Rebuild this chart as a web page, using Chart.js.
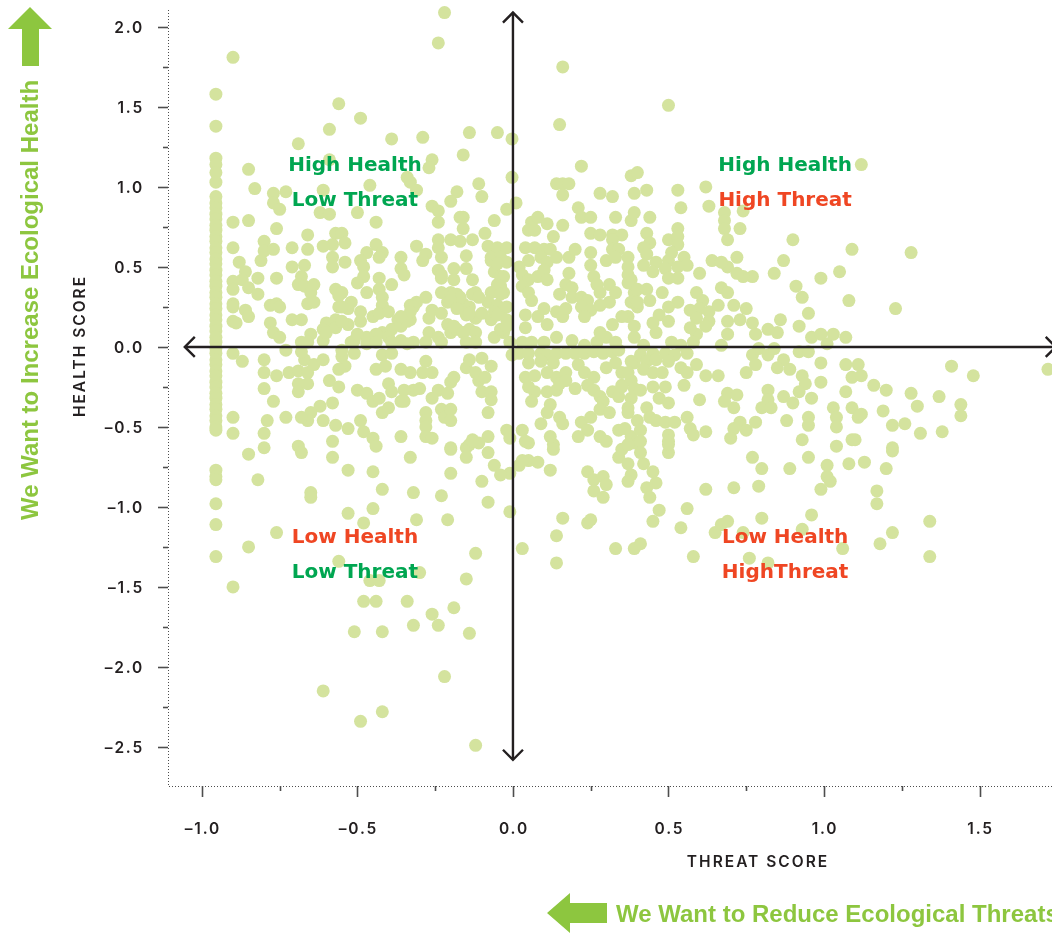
<!DOCTYPE html>
<html>
<head>
<meta charset="utf-8">
<title>Health vs Threat</title>
<script src="https://cdn.jsdelivr.net/npm/chart.js@4.4.1/dist/chart.umd.min.js"></script>
<style>
  html, body { margin: 0; padding: 0; background: #fff; }
</style>
</head>
<body>
<canvas id="scores" width="1052" height="934"></canvas>
<script>
// tick values on both axes
const threatTicks = [-1.0, -0.5, 0.0, 0.5, 1.0, 1.5];
const threatMinorTicks = [-0.75, -0.25, 0.25, 0.75, 1.25];
const healthTicks = [2.0, 1.5, 1.0, 0.5, 0.0, -0.5, -1.0, -1.5, -2.0, -2.5];
const healthMinorTicks = [1.75, 1.25, 0.75, 0.25, -0.25, -0.75, -1.25, -1.75, -2.25];

// sites stacked on the left edge, all at the same threat score
const columnThreat = -0.955;
const healthColumn = [1.58, 1.38, 1.18, 1.14, 1.09, 1.03, 0.94, 0.90, 0.87, 0.83, 0.80, 0.76, 0.73, 0.69,
  0.66, 0.62, 0.59, 0.55, 0.52, 0.48, 0.45, 0.41, 0.38, 0.34, 0.31, 0.27, 0.24, 0.20, 0.17, 0.13, 0.10,
  0.06, 0.03, -0.01, -0.04, -0.08, -0.11, -0.15, -0.18, -0.22, -0.25, -0.29, -0.32, -0.36, -0.39, -0.43,
  -0.46, -0.50, -0.52, -0.77, -0.81, -0.83, -0.98, -1.11, -1.31];

// [threat, health]
const highHealthLowThreat = [
  [-0.22,2.09],[-0.24,1.90],[-0.90,1.81],[-0.56,1.52],[-0.49,1.43],[-0.59,1.36],[-0.39,1.30],[-0.29,1.31],[-0.14,1.34],[-0.05,1.34],[-0.003,1.30],
  [-0.69,1.27],[-0.16,1.20],[-0.26,1.17],[-0.27,1.12],[-0.59,1.17],[-0.85,1.11],[-0.83,0.99],[-0.46,1.01],[-0.34,1.06],[-0.33,1.03],[-0.31,0.98],
  [-0.11,1.02],[-0.10,0.94],[-0.18,0.97],[-0.20,0.91],[-0.003,1.06],[-0.02,0.86],[-0.77,0.96],[-0.77,0.90],[-0.75,0.86],[-0.73,0.97],[-0.61,0.98],
  [-0.62,0.84],[-0.59,0.83],[-0.50,0.84],[-0.44,0.78],[-0.26,0.88],[-0.24,0.85],[-0.16,0.81],[-0.06,0.79],[-0.24,0.78],[-0.90,0.78],[-0.85,0.79],
  [-0.76,0.74],[-0.16,0.74],[-0.09,0.71],[-0.57,0.71],[-0.55,0.71],[-0.66,0.70],[-0.54,0.65],[-0.58,0.64],[-0.61,0.63],[-0.80,0.66],[-0.80,0.60],
  [-0.90,0.62],[-0.77,0.61],[-0.71,0.62],[-0.66,0.61],[-0.44,0.64],[-0.42,0.59],[-0.43,0.56],[-0.47,0.59],[-0.49,0.54],[-0.24,0.67],[-0.24,0.62],
  [-0.23,0.56],[-0.20,0.67],[-0.17,0.66],[-0.13,0.67],[-0.31,0.63],[-0.28,0.58],[-0.29,0.54],[-0.36,0.56],[-0.15,0.57],[-0.08,0.63],[-0.05,0.62],
  [-0.02,0.62],[-0.07,0.56],[-0.04,0.56],[-0.02,0.53],[-0.58,0.56],[-0.54,0.53],[-0.88,0.53],[-0.81,0.54],[-0.67,0.51],[-0.58,0.50],[-0.86,0.47],
  [-0.87,0.42],[-0.82,0.43],[-0.76,0.43],[-0.71,0.50],[-0.90,0.41],[-0.90,0.36],[-0.68,0.44],[-0.69,0.39],[-0.67,0.38],[-0.65,0.34],[-0.64,0.39],
  [-0.48,0.50],[-0.48,0.44],[-0.43,0.43],[-0.43,0.36],[-0.42,0.31],[-0.42,0.26],[-0.39,0.39],[-0.50,0.40],[-0.36,0.49],[-0.35,0.45],[-0.24,0.48],
  [-0.23,0.43],[-0.19,0.49],[-0.19,0.42],[-0.15,0.49],[-0.13,0.42],[-0.06,0.47],[-0.04,0.44],[-0.05,0.39],[-0.03,0.34],[-0.07,0.34],[-0.08,0.28],
  [-0.57,0.36],[-0.55,0.34],[-0.47,0.34],[-0.85,0.37],[-0.82,0.33],[-0.90,0.27],[-0.90,0.16],[-0.89,0.15],[-0.86,0.23],[-0.85,0.19],[-0.78,0.26],
  [-0.76,0.27],[-0.75,0.25],[-0.78,0.15],[-0.71,0.17],[-0.68,0.17],[-0.66,0.27],[-0.64,0.28],[-0.60,0.15],[-0.61,0.11],[-0.56,0.25],[-0.53,0.24],
  [-0.52,0.28],[-0.57,0.17],[-0.53,0.14],[-0.49,0.22],[-0.49,0.16],[-0.45,0.19],[-0.43,0.21],[-0.40,0.22],[-0.37,0.17],[-0.33,0.17],[-0.33,0.26],
  [-0.31,0.28],[-0.28,0.31],[-0.27,0.18],[-0.26,0.23],[-0.23,0.21],[-0.23,0.34],[-0.21,0.28],[-0.20,0.34],[-0.18,0.33],[-0.16,0.27],[-0.14,0.25],
  [-0.12,0.34],[-0.15,0.20],[-0.12,0.18],[-0.10,0.21],[-0.07,0.17],[-0.04,0.21],[-0.02,0.17],[-0.21,0.14],[-0.20,0.09],[-0.18,0.11],[-0.14,0.11],
  [-0.12,0.09],[-0.06,0.06],[-0.03,0.09],[-0.68,0.03],[-0.65,0.08],[-0.51,0.04],[-0.47,0.06],[-0.42,0.09],[-0.39,0.11],[-0.36,0.04],[-0.32,0.03],
  [-0.27,0.09],[-0.77,0.09],[-0.75,0.06],[-0.66,0.03],[-0.61,0.04],[-0.60,0.09],[-0.57,0.12],[-0.55,0.16],[-0.55,0.25],[-0.52,0.03],[-0.50,0.08],
  [-0.44,0.08],[-0.40,0.06],[-0.36,0.13],[-0.34,0.16],[-0.47,0.02],[-0.44,0.03],[-0.39,0.03],[-0.34,0.02],[-0.90,0.25],[-0.56,0.32],[-0.17,0.81],
  [-0.07,0.54],[-0.05,0.52],[-0.23,0.45],[-0.03,0.44],[-0.04,0.38],[-0.04,0.33],[-0.19,0.33],[-0.17,0.31],[-0.13,0.33],[-0.11,0.31],[-0.05,0.26],
  [-0.06,0.22],[-0.05,0.20],[-0.02,0.25],[-0.32,0.25],[-0.33,0.22],[-0.20,0.29],[-0.18,0.24],[-0.14,0.21],[-0.19,0.13],[-0.16,0.09],[-0.04,0.11],
  [-0.02,0.13],[-0.24,0.06],[-0.28,0.03],[-0.23,0.03],[-0.15,0.03],[-0.12,0.03],[-0.36,0.19],[-0.01,0.03]
];

const highHealthHighThreat = [
  [0.16,1.75],[0.50,1.51],[0.15,1.39],[0.22,1.13],[1.12,1.14],[0.14,1.02],[0.16,1.02],[0.18,1.02],[0.16,0.95],[0.38,1.07],[0.40,1.09],
  [0.28,0.96],[0.32,0.94],[0.39,0.96],[0.43,0.98],[0.53,0.98],[0.62,1.00],[0.01,0.90],[0.21,0.87],[0.54,0.87],[0.63,0.88],[0.22,0.81],
  [0.25,0.81],[0.33,0.81],[0.38,0.79],[0.39,0.84],[0.44,0.81],[0.06,0.78],[0.08,0.81],[0.05,0.73],[0.07,0.73],[0.11,0.77],[0.16,0.76],
  [0.13,0.69],[0.25,0.71],[0.28,0.70],[0.32,0.70],[0.35,0.70],[0.43,0.71],[0.50,0.67],[0.53,0.74],[0.53,0.69],[0.68,0.84],[0.68,0.79],
  [0.68,0.74],[0.73,0.74],[0.69,0.67],[0.90,0.67],[1.09,0.61],[1.28,0.59],[0.99,0.43],[1.05,0.47],[1.08,0.29],[1.23,0.24],[0.87,0.54],
  [0.84,0.46],[0.77,0.44],[0.74,0.44],[0.72,0.46],[0.69,0.50],[0.72,0.56],[0.64,0.54],[0.67,0.53],[0.60,0.46],[0.32,0.67],[0.32,0.61],
  [0.34,0.61],[0.30,0.54],[0.33,0.56],[0.04,0.62],[0.07,0.62],[0.10,0.61],[0.12,0.61],[0.09,0.56],[0.05,0.54],[0.11,0.53],[0.14,0.56],
  [0.18,0.56],[0.20,0.61],[0.25,0.59],[0.25,0.51],[0.26,0.44],[0.02,0.50],[0.03,0.45],[0.05,0.42],[0.03,0.38],[0.05,0.34],[0.06,0.29],
  [0.08,0.44],[0.10,0.48],[0.11,0.42],[0.18,0.46],[0.17,0.39],[0.19,0.37],[0.19,0.31],[0.15,0.33],[0.22,0.31],[0.24,0.29],[0.22,0.25],
  [0.25,0.23],[0.23,0.19],[0.27,0.39],[0.28,0.34],[0.31,0.39],[0.33,0.34],[0.31,0.28],[0.28,0.26],[0.37,0.56],[0.37,0.50],[0.37,0.45],
  [0.38,0.42],[0.39,0.34],[0.38,0.28],[0.40,0.25],[0.04,0.20],[0.04,0.12],[0.08,0.19],[0.11,0.14],[0.10,0.24],[0.14,0.22],[0.16,0.19],
  [0.17,0.24],[0.14,0.06],[0.19,0.04],[0.23,0.01],[0.27,0.03],[0.30,0.06],[0.33,0.03],[0.28,0.09],[0.32,0.14],[0.37,0.19],[0.39,0.13],
  [0.39,0.06],[0.03,0.03],[0.06,0.03],[0.10,0.03],[0.74,0.85],[0.53,0.64],[0.44,0.65],[0.42,0.62],[0.43,0.58],[0.42,0.51],[0.37,0.40],
  [0.46,0.53],[0.50,0.54],[0.51,0.59],[0.55,0.56],[0.56,0.51],[0.53,0.50],[0.49,0.49],[0.45,0.47],[0.50,0.43],[0.53,0.43],[0.40,0.36],
  [0.43,0.36],[0.40,0.28],[0.44,0.29],[0.48,0.34],[0.53,0.28],[0.50,0.25],[0.47,0.20],[0.59,0.34],[0.61,0.29],[0.60,0.24],[0.57,0.23],
  [0.59,0.18],[0.63,0.22],[0.66,0.26],[0.63,0.16],[0.62,0.13],[0.67,0.37],[0.69,0.34],[0.71,0.26],[0.69,0.16],[0.69,0.08],[0.73,0.17],
  [0.75,0.24],[0.77,0.15],[0.78,0.08],[0.82,0.11],[0.85,0.09],[0.86,0.17],[0.91,0.38],[0.93,0.31],[0.95,0.21],[0.92,0.13],[0.96,0.06],
  [0.99,0.08],[1.03,0.08],[1.07,0.06],[1.01,0.02],[0.50,0.16],[0.46,0.09],[0.35,0.19],[0.45,0.15],[0.59,0.08],[0.58,0.03],[0.67,0.01],
  [0.57,0.12],[0.42,0.01],[0.51,0.03],[0.54,0.01]
];

const lowHealthLowThreat = [
  [-0.90,-0.04],[-0.87,-0.09],[-0.80,-0.08],[-0.80,-0.16],[-0.76,-0.18],[-0.80,-0.26],[-0.77,-0.34],[-0.73,-0.02],[-0.72,-0.16],[-0.69,-0.15],
  [-0.69,-0.23],[-0.69,-0.28],[-0.66,-0.23],[-0.66,-0.16],[-0.67,-0.08],[-0.64,-0.11],[-0.61,-0.08],[-0.68,-0.03],[-0.59,-0.21],[-0.56,-0.25],
  [-0.55,-0.06],[-0.54,-0.12],[-0.56,-0.14],[-0.51,-0.04],[-0.50,-0.27],[-0.47,-0.29],[-0.45,-0.34],[-0.43,-0.32],[-0.44,-0.14],[-0.41,-0.12],
  [-0.40,-0.23],[-0.39,-0.28],[-0.36,-0.34],[-0.42,-0.05],[-0.39,-0.04],[-0.36,-0.14],[-0.33,-0.16],[-0.32,-0.27],[-0.58,-0.35],[-0.62,-0.37],
  [-0.65,-0.41],[-0.66,-0.46],[-0.68,-0.44],[-0.61,-0.46],[-0.73,-0.44],[-0.79,-0.46],[-0.90,-0.44],[-0.90,-0.54],[-0.80,-0.54],[-0.69,-0.62],
  [-0.80,-0.63],[-0.57,-0.49],[-0.53,-0.51],[-0.49,-0.46],[-0.48,-0.53],[-0.45,-0.57],[-0.44,-0.62],[-0.58,-0.59],[-0.42,-0.41],[-0.40,-0.38],
  [-0.36,-0.56],[-0.55,-0.02],[-0.28,-0.09],[-0.29,-0.16],[-0.26,-0.16],[-0.35,-0.27],[-0.30,-0.26],[-0.24,-0.27],[-0.26,-0.32],[-0.21,-0.29],
  [-0.35,-0.34],[-0.20,-0.22],[-0.19,-0.19],[-0.15,-0.13],[-0.14,-0.08],[-0.12,-0.16],[-0.11,-0.21],[-0.10,-0.07],[-0.07,-0.12],[-0.09,-0.19],
  [-0.10,-0.28],[-0.07,-0.28],[-0.07,-0.33],[-0.08,-0.41],[-0.28,-0.41],[-0.28,-0.46],[-0.28,-0.50],[-0.23,-0.39],[-0.22,-0.44],[-0.20,-0.39],
  [-0.20,-0.46],[-0.28,-0.56],[-0.26,-0.57],[-0.13,-0.58],[-0.15,-0.63],[-0.08,-0.56],[-0.11,-0.60],[-0.02,-0.52],[-0.01,-0.57],[-0.20,-0.63],
  [-0.003,-0.05],[-0.85,-0.67],[-0.82,-0.83],[-0.85,-1.25],[-0.76,-1.16],[-0.90,-1.50],[-0.65,-0.91],[-0.65,-0.94],[-0.58,-0.69],[-0.53,-0.77],
  [-0.45,-0.78],[-0.42,-0.89],[-0.53,-1.04],[-0.45,-1.01],[-0.48,-1.10],[-0.56,-1.34],[-0.46,-1.46],[-0.43,-1.46],[-0.30,-1.41],[-0.32,-0.91],
  [-0.31,-1.08],[-0.23,-0.93],[-0.21,-1.08],[-0.20,-0.79],[-0.08,-0.97],[-0.10,-0.84],[-0.01,-0.79],[-0.01,-1.03],[-0.12,-1.29],[-0.15,-1.45],
  [-0.48,-1.59],[-0.44,-1.59],[-0.34,-1.59],[-0.26,-1.67],[-0.24,-1.74],[-0.19,-1.63],[-0.32,-1.74],[-0.51,-1.78],[-0.42,-1.78],[-0.14,-1.79],
  [-0.22,-2.06],[-0.61,-2.15],[-0.42,-2.28],[-0.49,-2.34],[-0.12,-2.49],[-0.15,-0.69],[-0.14,-0.61],[-0.13,-0.59],[-0.08,-0.66],[-0.06,-0.74],
  [-0.04,-0.80],[-0.20,-0.64],[-0.33,-0.69],[-0.68,-0.66]
];

const lowHealthHighThreat = [
  [0.02,-0.04],[0.05,-0.04],[0.09,-0.04],[0.11,-0.05],[0.14,-0.04],[0.17,-0.04],[0.20,-0.04],[0.23,-0.04],[0.26,-0.03],[0.29,-0.04],
  [0.32,-0.03],[0.34,-0.02],[0.05,-0.10],[0.09,-0.09],[0.13,-0.10],[0.04,-0.19],[0.07,-0.18],[0.11,-0.16],[0.14,-0.19],[0.17,-0.16],
  [0.21,-0.11],[0.23,-0.16],[0.26,-0.19],[0.30,-0.13],[0.33,-0.10],[0.35,-0.16],[0.39,-0.10],[0.05,-0.25],[0.07,-0.28],[0.06,-0.34],
  [0.11,-0.28],[0.14,-0.27],[0.12,-0.36],[0.11,-0.41],[0.15,-0.23],[0.17,-0.21],[0.20,-0.26],[0.24,-0.24],[0.26,-0.27],[0.28,-0.31],
  [0.29,-0.34],[0.32,-0.28],[0.35,-0.24],[0.38,-0.21],[0.34,-0.31],[0.38,-0.32],[0.37,-0.38],[0.39,-0.26],[0.15,-0.44],[0.16,-0.48],
  [0.22,-0.47],[0.25,-0.44],[0.28,-0.39],[0.31,-0.41],[0.24,-0.52],[0.21,-0.56],[0.28,-0.56],[0.30,-0.59],[0.34,-0.52],[0.38,-0.56],
  [0.39,-0.60],[0.12,-0.56],[0.13,-0.61],[0.05,-0.60],[0.09,-0.48],[0.03,-0.52],[0.04,-0.59],[0.41,-0.05],[0.45,-0.04],[0.49,-0.04],
  [0.52,-0.05],[0.56,-0.04],[0.38,-0.09],[0.43,-0.09],[0.46,-0.08],[0.50,-0.09],[0.37,-0.16],[0.42,-0.14],[0.45,-0.16],[0.48,-0.16],
  [0.54,-0.13],[0.56,-0.16],[0.59,-0.11],[0.62,-0.18],[0.66,-0.18],[0.75,-0.16],[0.78,-0.11],[0.77,-0.05],[0.79,-0.01],[0.82,-0.05],
  [0.84,-0.01],[0.87,-0.08],[0.89,-0.14],[0.85,-0.13],[0.92,-0.03],[0.95,-0.03],[0.99,-0.10],[0.93,-0.18],[0.94,-0.23],[0.92,-0.28],
  [0.99,-0.22],[1.07,-0.11],[1.09,-0.19],[1.07,-0.28],[0.35,-0.25],[0.41,-0.27],[0.45,-0.25],[0.49,-0.25],[0.55,-0.24],[0.37,-0.41],
  [0.47,-0.32],[0.50,-0.35],[0.43,-0.38],[0.44,-0.44],[0.40,-0.46],[0.46,-0.46],[0.49,-0.47],[0.52,-0.47],[0.56,-0.44],[0.60,-0.33],
  [0.57,-0.51],[0.58,-0.55],[0.62,-0.53],[0.36,-0.51],[0.41,-0.52],[0.50,-0.55],[0.50,-0.59],[0.41,-0.59],[0.69,-0.29],[0.72,-0.30],
  [0.82,-0.27],[0.82,-0.33],[0.87,-0.31],[0.90,-0.35],[0.96,-0.32],[0.80,-0.38],[0.83,-0.38],[0.71,-0.38],[0.68,-0.34],[0.88,-0.46],
  [0.95,-0.44],[0.95,-0.49],[1.03,-0.38],[1.04,-0.44],[1.04,-0.50],[1.09,-0.38],[1.11,-0.44],[0.78,-0.47],[0.73,-0.47],[0.71,-0.51],
  [0.75,-0.52],[0.70,-0.57],[0.93,-0.58],[1.09,-0.58],[1.11,-0.11],[1.12,-0.18],[1.16,-0.24],[1.20,-0.27],[1.12,-0.42],[1.19,-0.40],
  [1.22,-0.49],[1.26,-0.48],[1.31,-0.54],[1.28,-0.29],[1.30,-0.37],[1.37,-0.31],[1.38,-0.53],[1.41,-0.12],[1.48,-0.18],[1.44,-0.36],
  [1.44,-0.43],[1.22,-0.63],[1.72,-0.14],[0.13,-0.64],[0.05,-0.71],[0.08,-0.72],[0.02,-0.74],[0.03,-0.71],[0.12,-0.77],[0.24,-0.78],
  [0.26,-0.83],[0.29,-0.81],[0.30,-0.86],[0.26,-0.90],[0.29,-0.94],[0.34,-0.69],[0.37,-0.73],[0.38,-0.80],[0.37,-0.84],[0.42,-0.73],
  [0.45,-0.78],[0.46,-0.85],[0.43,-0.88],[0.44,-0.94],[0.35,-0.64],[0.37,-0.61],[0.41,-0.66],[0.50,-0.66],[0.50,-0.61],[0.62,-0.89],
  [0.71,-0.88],[0.79,-0.87],[0.47,-1.02],[0.56,-1.01],[0.45,-1.09],[0.54,-1.13],[0.16,-1.07],[0.24,-1.10],[0.25,-1.08],[0.14,-1.18],
  [0.03,-1.26],[0.14,-1.35],[0.33,-1.26],[0.39,-1.26],[0.41,-1.23],[0.58,-1.31],[0.65,-1.16],[0.67,-1.11],[0.69,-1.09],[0.74,-1.16],
  [0.76,-1.32],[0.82,-1.35],[0.80,-1.07],[0.96,-1.05],[0.93,-1.14],[0.99,-0.89],[1.01,-0.81],[1.02,-0.84],[1.01,-0.74],[0.95,-0.69],
  [0.89,-0.76],[0.80,-0.76],[0.77,-0.69],[1.04,-0.62],[1.10,-0.58],[1.08,-0.73],[1.13,-0.72],[1.20,-0.76],[1.22,-0.65],[1.17,-0.90],
  [1.17,-0.98],[1.06,-1.26],[1.18,-1.23],[1.22,-1.16],[1.34,-1.09],[1.34,-1.31]
];

const quadrantLabels = [
  { at: [-0.508, 1.13], lines: [['High Health', 'green'], ['Low Threat', 'green']] },
  { at: [0.875, 1.13], lines: [['High Health', 'green'], ['High Threat', 'red']] },
  { at: [-0.508, -1.19], lines: [['Low Health', 'red'], ['Low Threat', 'green']] },
  { at: [0.875, -1.19], lines: [['Low Health', 'red'], ['HighThreat', 'red']] }
];

const ink = '#231f20';
const tickInk = '#4d4d4d';
const dotColour = '#d4e39e';
const labelColours = { green: '#00a651', red: '#ef4623' };
const leafGreen = '#8dc63f';

const fmt = v => (v < 0 ? '\u2013' : '') + Math.abs(v).toFixed(1);

const points = [
  ...healthColumn.map(h => ({ x: columnThreat, y: h })),
  ...highHealthLowThreat, ...highHealthHighThreat, ...lowHealthLowThreat, ...lowHealthHighThreat
].map(p => Array.isArray(p) ? { x: p[0], y: p[1] } : p);

const decorations = {
  id: 'decorations',
  afterDatasetsDraw(chart) {
    const { ctx, chartArea: a, scales: { x, y } } = chart;
    ctx.save();

    // dotted frame on left and bottom
    ctx.strokeStyle = tickInk;
    ctx.lineWidth = 1;
    ctx.setLineDash([1, 2]);
    ctx.beginPath();
    ctx.moveTo(a.left + 0.5, a.top);
    ctx.lineTo(a.left + 0.5, a.bottom + 0.5);
    ctx.lineTo(a.right, a.bottom + 0.5);
    ctx.stroke();
    ctx.setLineDash([]);

    // tick marks
    ctx.lineWidth = 1.6;
    healthTicks.concat(healthMinorTicks).forEach(v => {
      const py = Math.round(y.getPixelForValue(v)) + 0.5;
      const len = healthTicks.includes(v) ? 10 : 5;
      ctx.beginPath(); ctx.moveTo(a.left - len, py); ctx.lineTo(a.left, py); ctx.stroke();
    });
    threatTicks.concat(threatMinorTicks).forEach(v => {
      const px = Math.round(x.getPixelForValue(v)) + 0.5;
      const len = threatTicks.includes(v) ? 11 : 5;
      ctx.beginPath(); ctx.moveTo(px, a.bottom); ctx.lineTo(px, a.bottom + len); ctx.stroke();
    });

    // tick labels
    ctx.fillStyle = ink;
    ctx.font = '600 15.5px Inter';
    ctx.letterSpacing = '1.8px';
    ctx.textBaseline = 'middle';
    ctx.textAlign = 'right';
    healthTicks.forEach(v => ctx.fillText(fmt(v), a.left - 24, y.getPixelForValue(v) + 1));
    ctx.textAlign = 'center';
    threatTicks.forEach(v => ctx.fillText(fmt(v), x.getPixelForValue(v) + 1, a.bottom + 43));

    // axis titles
    ctx.font = '600 15.5px Inter';
    ctx.letterSpacing = '2px';
    ctx.textBaseline = 'alphabetic';
    ctx.fillText('THREAT SCORE', 758, 867);
    ctx.save();
    ctx.translate(85, 346);
    ctx.rotate(-Math.PI / 2);
    ctx.fillText('HEALTH SCORE', 0, 0);
    ctx.restore();

    // quadrant arrows through zero
    const x0 = x.getPixelForValue(0), y0 = y.getPixelForValue(0);
    const top = y.getPixelForValue(2.09), bottom = y.getPixelForValue(-2.58);
    const left = x.getPixelForValue(-1.055), right = x.getPixelForValue(1.745);
    ctx.strokeStyle = ink;
    ctx.lineWidth = 2.4;
    ctx.lineJoin = 'miter';
    ctx.beginPath();
    ctx.moveTo(x0, top); ctx.lineTo(x0, bottom);
    ctx.moveTo(left, y0); ctx.lineTo(right, y0);
    ctx.stroke();
    const h = 10;
    ctx.beginPath();
    ctx.moveTo(x0 - h, top + h); ctx.lineTo(x0, top); ctx.lineTo(x0 + h, top + h);
    ctx.moveTo(x0 - h, bottom - h); ctx.lineTo(x0, bottom); ctx.lineTo(x0 + h, bottom - h);
    ctx.moveTo(left + h, y0 - h); ctx.lineTo(left, y0); ctx.lineTo(left + h, y0 + h);
    ctx.moveTo(right - h, y0 - h); ctx.lineTo(right, y0); ctx.lineTo(right - h, y0 + h);
    ctx.stroke();

    // quadrant names
    ctx.font = 'bold 20px "DejaVu Sans"';
    ctx.letterSpacing = '0px';
    ctx.textAlign = 'center';
    ctx.textBaseline = 'middle';
    quadrantLabels.forEach(q => {
      const px = x.getPixelForValue(q.at[0]);
      const py = y.getPixelForValue(q.at[1]);
      q.lines.forEach(([text, colour], i) => {
        ctx.fillStyle = labelColours[colour];
        ctx.fillText(text, px, py + i * 35);
      });
    });

    // green "we want to" notes with arrows
    ctx.fillStyle = leafGreen;
    ctx.font = 'bold 24px "Liberation Sans"';
    ctx.textBaseline = 'alphabetic';
    ctx.save();
    ctx.translate(38, 300);
    ctx.rotate(-Math.PI / 2);
    ctx.textAlign = 'center';
    ctx.fillText('We Want to Increase Ecological Health', 0, 0);
    ctx.restore();
    ctx.textAlign = 'left';
    ctx.fillText('We Want to Reduce Ecological Threats', 616, 922);

    ctx.beginPath();
    ctx.moveTo(30, 7); ctx.lineTo(52, 29); ctx.lineTo(39, 29); ctx.lineTo(39, 66);
    ctx.lineTo(22, 66); ctx.lineTo(22, 29); ctx.lineTo(8, 29); ctx.closePath();
    ctx.fill();
    ctx.beginPath();
    ctx.moveTo(547, 913); ctx.lineTo(570, 893); ctx.lineTo(570, 903); ctx.lineTo(607, 903);
    ctx.lineTo(607, 923); ctx.lineTo(570, 923); ctx.lineTo(570, 933); ctx.closePath();
    ctx.fill();

    ctx.restore();
  }
};

new Chart(document.getElementById('scores'), {
  type: 'scatter',
  data: {
    datasets: [{
      label: 'Sites',
      data: points,
      backgroundColor: dotColour,
      borderWidth: 0,
      pointRadius: 6.5,
      pointHoverRadius: 6.5,
      clip: false
    }]
  },
  options: {
    responsive: false,
    animation: false,
    layout: { autoPadding: false, padding: { left: 168, top: 10, right: 0, bottom: 148 } },
    plugins: { legend: { display: false }, tooltip: { enabled: false } },
    scales: {
      x: { type: 'linear', min: -1.109, max: 1.733, display: false },
      y: { type: 'linear', min: -2.744, max: 2.106, display: false }
    }
  },
  plugins: [decorations]
});
</script>
</body>
</html>
